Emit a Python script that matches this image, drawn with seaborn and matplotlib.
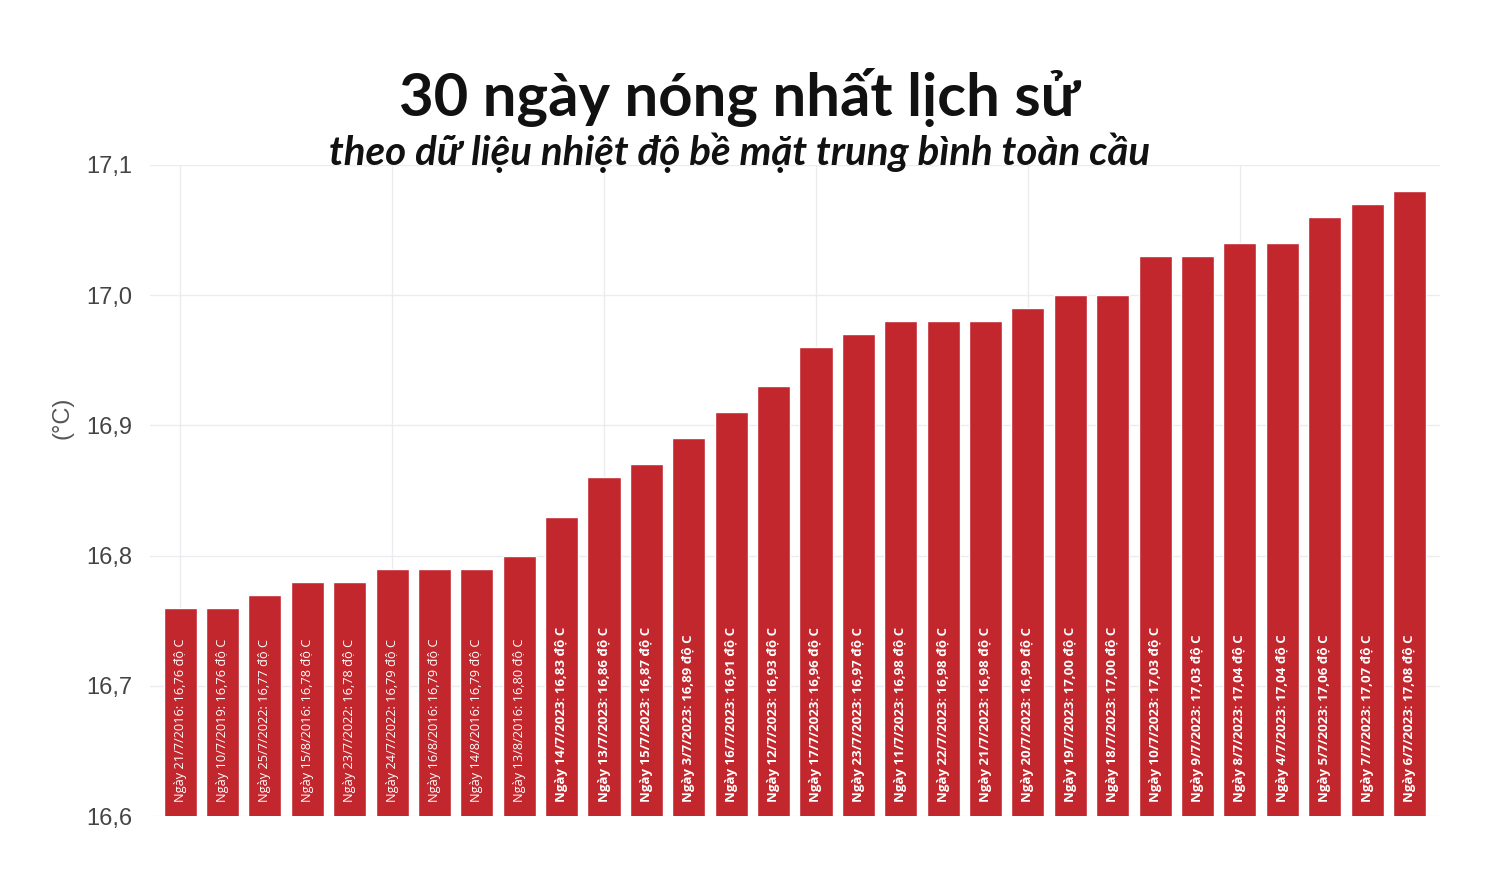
import numpy as np
import pandas as pd
import matplotlib.pyplot as plt
import seaborn as sns

# Dữ liệu: 30 ngày nóng nhất (nhiệt độ bề mặt trung bình toàn cầu)
ngay = ['21/7/2016', '10/7/2019', '25/7/2022', '15/8/2016', '23/7/2022',
        '24/7/2022', '16/8/2016', '14/8/2016', '13/8/2016', '14/7/2023',
        '13/7/2023', '15/7/2023', '3/7/2023', '16/7/2023', '12/7/2023',
        '17/7/2023', '23/7/2023', '11/7/2023', '22/7/2023', '21/7/2023',
        '20/7/2023', '19/7/2023', '18/7/2023', '10/7/2023', '9/7/2023',
        '8/7/2023', '4/7/2023', '5/7/2023', '7/7/2023', '6/7/2023']
nhiet_do = [16.76, 16.76, 16.77, 16.78, 16.78, 16.79, 16.79, 16.79, 16.80, 16.83,
            16.86, 16.87, 16.89, 16.91, 16.93, 16.96, 16.97, 16.98, 16.98, 16.98,
            16.99, 17.00, 17.00, 17.03, 17.03, 17.04, 17.04, 17.06, 17.07, 17.08]
yticks = [16.6, 16.7, 16.8, 16.9, 17.0, 17.1]

df = pd.DataFrame({'ngay': ngay, 'nhiet_do': nhiet_do})
df['nhan'] = ['Ngày %s: %s độ C' % (d, ('%.2f' % v).replace('.', ','))
              for d, v in zip(df['ngay'], df['nhiet_do'])]

sns.set_style('whitegrid')
plt.rcParams['font.family'] = ['Liberation Sans', 'DejaVu Sans']

fig = plt.figure(figsize=(15, 8.72), dpi=100)
ax = fig.add_axes([0.1, 0.0642, 0.86, 0.7466])

sns.barplot(data=df, x=df.index, y='nhiet_do', color='#c1272d',
            saturation=1, width=0.78, ax=ax)

ax.set_ylim(16.6, 17.1)
ax.set_xlim(-0.71, 29.72)
ax.set_yticks(yticks)
ax.set_yticklabels([('%.1f' % t).replace('.', ',') for t in yticks],
                   fontsize=17, color='#444444')
ax.tick_params(axis='y', pad=13, length=0)
ax.set_xticks(range(0, 30, 5))
ax.set_xticklabels([])
ax.tick_params(axis='x', length=0)
ax.grid(True, color='#ebebf0', linewidth=1)
for s in ax.spines.values():
    s.set_visible(False)
ax.set_xlabel('')
ax.set_ylabel('(°C)', fontsize=17, color='#555555')
ax.yaxis.set_label_coords(-0.059, 0.611)

# Nhãn trong cột
for i, row in df.iterrows():
    dam = row['ngay'].endswith('2023')
    ax.text(i, 16.611, row['nhan'], rotation=90, ha='center', va='bottom',
            color='white', fontsize=9.5 if dam else 9.2,
            fontweight='bold' if dam else 'normal',
            family=['Open Sans', 'DejaVu Sans'])

fig.text(0.493, 0.888, '30 ngày nóng nhất lịch sử', ha='center', va='center',
         fontsize=43, fontweight='bold', color='#111111',
         family=['Lato', 'DejaVu Sans'])
fig.text(0.493, 0.825, 'theo dữ liệu nhiệt độ bề mặt trung bình toàn cầu',
         ha='center', va='center', fontsize=29, fontweight='bold',
         style='italic', color='#111111', family=['Lato', 'DejaVu Sans'])

plt.savefig('out.png', dpi=100)
